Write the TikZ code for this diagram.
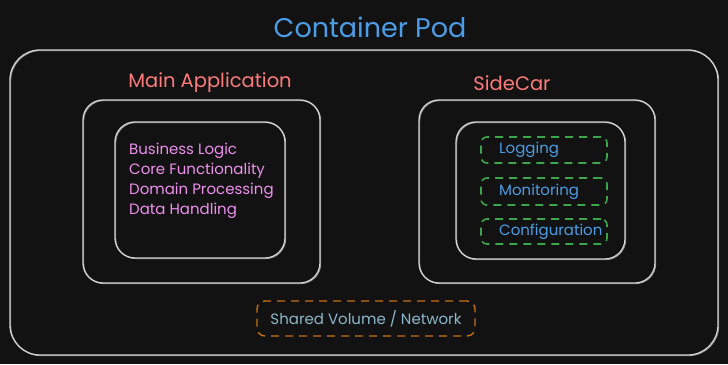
\documentclass[tikz,border=0pt]{standalone}
\usepackage{fontspec}
\setmainfont{Poppins}
\usetikzlibrary{positioning}

\definecolor{canvas}{HTML}{121212}
\definecolor{boxline}{HTML}{D4D4D4}
\definecolor{podblue}{HTML}{4A9DE6}
\definecolor{salmon}{HTML}{FF7B7B}
\definecolor{pinkish}{HTML}{F08EF0}
\definecolor{dashgreen}{HTML}{3CA64A}
\definecolor{dashorange}{HTML}{C8700F}
\definecolor{paleblue}{HTML}{8AB8CC}

\begin{document}
\begin{tikzpicture}[x=1pt, y=-1pt,
    box/.style={draw=boxline, line width=1.3pt, rounded corners=#1, inner sep=0pt,
      preaction={draw=boxline!60!canvas, line width=0.8pt,
        transform canvas={xshift=0.8pt, yshift=-0.7pt}}},
    box/.default=20pt,
    tagbox/.style={draw=dashgreen, line width=1.6pt, dash pattern=on 8pt off 6pt,
      rounded corners=6pt, minimum width=126pt, inner sep=0pt},
    tagtext/.style={font=\fontsize{15}{17}\selectfont, text=podblue, anchor=west, inner sep=0pt},
    itemtext/.style={font=\fontsize{15}{17}\selectfont, text=pinkish, anchor=west, inner sep=0pt},
    heading/.style={font=\fontsize{19.5}{22}\selectfont, text=salmon}
  ]
    \fill[canvas] (0,0) rectangle (728,364);
    \useasboundingbox (0,0) rectangle (728,364);

    % pod frame and title
    \node[box=30pt, minimum width=708pt, minimum height=305pt] (pod) at (364,202.5) {};
    \node[font=\fontsize{27}{30}\selectfont, text=podblue] (podtitle) at (370,27) {Container Pod};

    % main application
    \node[heading] (maintitle) at (210,83) {Main Application};
    \node[box, minimum width=237pt, minimum height=183pt] (mainouter) at (201.5,191.5) {};
    \node[box, minimum width=170pt, minimum height=136pt] (maininner) at (200,190) {};
    \foreach \i/\y/\txt in {1/151/Business Logic, 2/171/Core Functionality,
                            3/191/Domain Processing, 4/211/Data Handling} {
      \node[itemtext] (item\i) at (129,\y) {\txt};
    }

    % sidecar
    \node[heading] (sidetitle) at (512,83) {SideCar};
    \node[box, minimum width=236pt, minimum height=183pt] (sideouter) at (537,191.5) {};
    \node[box, minimum width=169pt, minimum height=137pt] (sideinner) at (540.5,190.5) {};
    \foreach \n/\y/\h/\txt in {log/150/26/Logging, mon/191.5/27/Monitoring,
                               conf/231.5/25/Configuration} {
      \node[tagbox, minimum height=\h pt] (\n) at (544,\y) {};
      \node[tagtext] (\n text) at (499,\y) {\txt};
    }

    % shared volume
    \node[draw=dashorange, line width=1.4pt, dash pattern=on 8pt off 6pt,
      rounded corners=8pt, minimum width=218pt, minimum height=35pt, inner sep=0pt,
      font=\fontsize{15}{17}\selectfont, text=paleblue] (shared) at (366,318.5)
      {Shared Volume / Network};
\end{tikzpicture}
\end{document}
